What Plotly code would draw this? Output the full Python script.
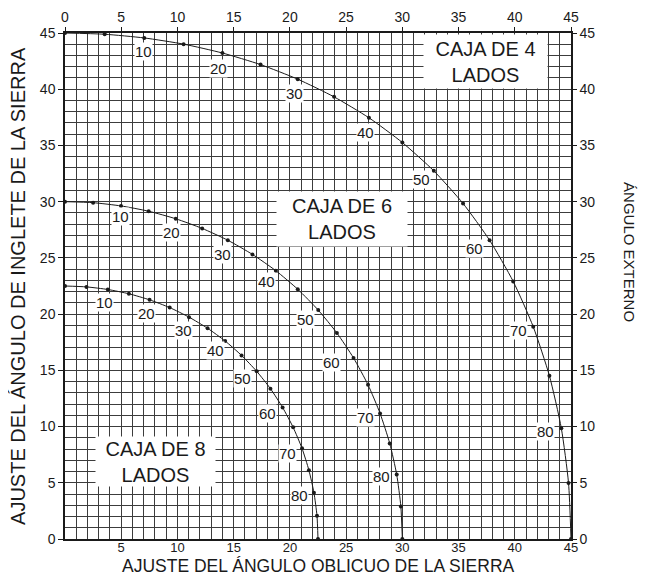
import plotly.graph_objects as go

# external angle of the box side (degrees), one point every 5
ext_angle = [0, 5, 10, 15, 20, 25, 30, 35, 40, 45, 50, 55, 60, 65, 70, 75, 80, 85, 90]

# 4-sided box
bevel_4 = [0, 3.53, 7.05, 10.55, 14.00, 17.39, 20.70, 23.93, 27.03, 30.00,
           32.80, 35.40, 37.76, 39.86, 41.64, 43.08, 44.14, 44.78, 45.0]
miter_4 = [45.0, 44.89, 44.56, 44.01, 43.22, 42.19, 40.89, 39.32, 37.46, 35.26,
           32.74, 29.84, 26.57, 22.91, 18.88, 14.51, 9.85, 4.98, 0]

# 6-sided box
bevel_6 = [0, 2.50, 4.98, 7.44, 9.85, 12.20, 14.48, 16.67, 18.75, 20.70,
           22.52, 24.18, 25.66, 26.95, 28.02, 28.88, 29.50, 29.87, 30.0]
miter_6 = [30.0, 29.91, 29.62, 29.15, 28.48, 27.62, 26.57, 25.31, 23.86, 22.21,
           20.36, 18.32, 16.10, 13.71, 11.17, 8.50, 5.73, 2.88, 0]

# 8-sided box
bevel_8 = [0, 1.91, 3.81, 5.68, 7.52, 9.31, 11.03, 12.68, 14.24, 15.70,
           17.05, 18.27, 19.35, 20.29, 21.08, 21.69, 22.14, 22.41, 22.5]
miter_8 = [22.5, 22.42, 22.19, 21.81, 21.27, 20.58, 19.73, 18.74, 17.61, 16.33,
           14.91, 13.37, 11.70, 9.93, 8.06, 6.12, 4.11, 2.07, 0]

label_angles = [10, 20, 30, 40, 50, 60, 70, 80]
axis_ticks = [0, 5, 10, 15, 20, 25, 30, 35, 40, 45]

# pixel offsets of the angle labels from their points
offs_4 = [(-1, -14), (-4, -15), (-3, -14), (-3, -15), (-12, -9), (-15, -8), (-15, -4), (-16, -3)]
offs_6 = [(-1, -11), (-4, -14), (-5, -14), (-9, -11), (-13, -9), (-22, -5), (-15, -4), (-15, -2)]
offs_8 = [(-3, -13), (-3, -14), (-6, -13), (-10, -10), (-14, -7), (-15, -6), (-15, -5), (-14, -3)]

FONT = "Liberation Sans"
INK = "#1a1a1a"
GRID = "#3c3c3c"

fig = go.Figure()
annotations = []

for bx, my, offs in [(bevel_4, miter_4, offs_4), (bevel_6, miter_6, offs_6), (bevel_8, miter_8, offs_8)]:
    fig.add_trace(go.Scatter(
        x=bx, y=my, mode="lines+markers",
        line=dict(color=INK, width=1, shape="spline", smoothing=0.6),
        marker=dict(color=INK, size=4),
        showlegend=False, hoverinfo="skip",
    ))
    for a, (dx, dy) in zip(label_angles, offs):
        i = ext_angle.index(a)
        annotations.append(dict(
            x=bx[i], y=my[i], xref="x", yref="y", text=str(a), showarrow=False,
            xshift=dx, yshift=dy, bgcolor="white", borderpad=0,
            font=dict(family=FONT, size=15, color=INK),
        ))

# invisible trace so the top/right axes get drawn
fig.add_trace(go.Scatter(x=[0, 45], y=[0, 45], xaxis="x2", yaxis="y2",
                         mode="markers", marker=dict(opacity=0),
                         showlegend=False, hoverinfo="skip"))

boxes = [
    ("CAJA DE 4<br>LADOS", 37.44, 42.51, 123, 53),
    ("CAJA DE 6<br>LADOS", 24.64, 28.46, 130, 54),
    ("CAJA DE 8<br>LADOS", 8.09, 6.85, 119, 49),
]
for txt, bx, by, w, h in boxes:
    annotations.append(dict(
        x=bx, y=by, xref="x", yref="y", text=txt, showarrow=False,
        width=w, height=h, bgcolor="white", borderpad=0,
        font=dict(family=FONT, size=20, color=INK),
    ))

annotations += [
    dict(text="AJUSTE DEL ÁNGULO DE INGLETE DE LA SIERRA", x=-0.093, y=0.5,
         xref="paper", yref="paper", xanchor="center", yanchor="middle",
         showarrow=False, textangle=-90,
         font=dict(family=FONT, size=20, color=INK)),
    dict(text="AJUSTE DEL ÁNGULO OBLICUO DE LA SIERRA", x=0.5, y=-0.0535,
         xref="paper", yref="paper", xanchor="center", yanchor="middle",
         showarrow=False,
         font=dict(family=FONT, size=17.5, color=INK)),
    dict(text="ÁNGULO EXTERNO", x=1.1166, y=0.567,
         xref="paper", yref="paper", xanchor="center", yanchor="middle",
         showarrow=False, textangle=90,
         font=dict(family=FONT, size=15, color=INK)),
]

grid = dict(showgrid=True, gridcolor=GRID, gridwidth=1)
minor = dict(dtick=1, showgrid=True, gridcolor=GRID, gridwidth=1, ticks="")
tickfont = dict(family=FONT, size=14, color=INK)

# the page body adds an 8px margin, so the figure is 8px smaller on each side
fig.update_layout(
    width=638, height=568,
    margin=dict(l=57, r=75, t=25, b=37),
    paper_bgcolor="white", plot_bgcolor="white",
    annotations=annotations,
    xaxis=dict(range=[0, 45], tickvals=axis_ticks[1:],
               tickfont=dict(family=FONT, size=13, color=INK),
               ticks="", ticklabelstandoff=-4,
               showline=True, linecolor=INK, linewidth=1.5, zeroline=False,
               automargin=False, minor=minor, **grid),
    yaxis=dict(range=[0, 45], tickvals=axis_ticks, tickfont=tickfont,
               ticks="outside", ticklen=5, tickcolor=INK,
               showline=True, linecolor=INK, linewidth=1.5, zeroline=False,
               automargin=False, minor=minor, **grid),
    xaxis2=dict(range=[0, 45], overlaying="x", side="top", tickvals=axis_ticks,
                tickfont=tickfont, ticks="outside", ticklen=4, tickcolor=INK,
                showline=True, linecolor=INK, linewidth=1.5, showgrid=False,
                zeroline=False, automargin=False),
    yaxis2=dict(range=[0, 45], overlaying="y", side="right", tickvals=axis_ticks,
                tickfont=tickfont, ticks="outside", ticklen=4, tickcolor=INK,
                showline=True, linecolor=INK, linewidth=1.5, showgrid=False,
                zeroline=False, automargin=False),
)

fig.write_html("out.html")
